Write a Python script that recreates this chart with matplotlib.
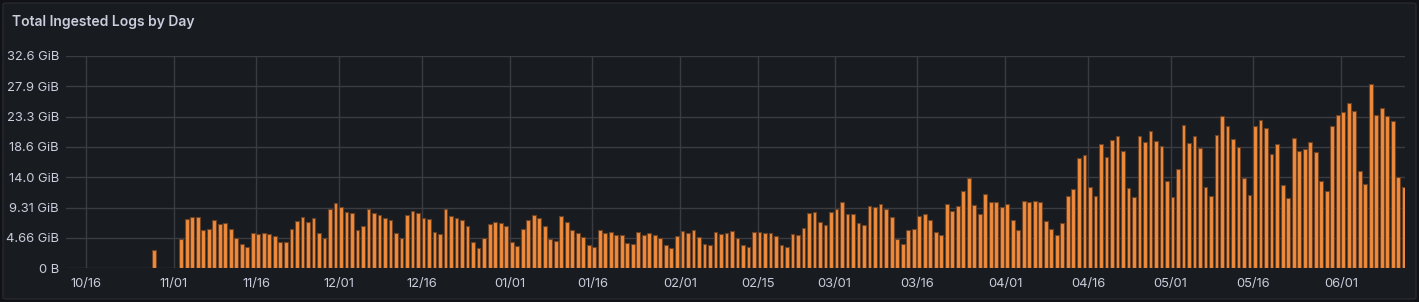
import datetime as dt
import numpy as np
import matplotlib
matplotlib.use("Agg")
import matplotlib.pyplot as plt
import matplotlib.dates as mdates
from matplotlib.patches import FancyBboxPatch

# daily ingest volume in GiB
first_day = dt.date(2022, 10, 28)
isolated = [2.76]
start_day = dt.date(2022, 11, 2)
gib = [
    4.50, 7.57, 7.83, 7.93, 5.89, 6.04, 7.37, 6.76, 6.91, 6.04,            # 11/02-11/11
    4.71, 3.68, 3.33, 5.37, 5.27, 5.42, 5.22, 4.96, 4.04, 4.04,            # 11/12-11/21
    6.04, 7.22, 7.88, 7.11, 7.73, 5.37, 4.71, 9.16, 9.98, 9.37,            # 11/22-12/01
    8.65, 8.44, 5.89, 6.45, 9.16, 8.44, 8.14, 7.68, 7.37, 5.42,            # 12/02-12/11
    4.61, 8.19, 8.75, 8.44, 7.68, 7.57, 5.63, 5.22, 9.11, 8.09,            # 12/12-12/21
    7.78, 7.47, 6.55, 3.99, 3.17, 4.71, 6.81, 7.11, 7.01, 6.45,            # 12/22-12/31
    4.09, 3.43, 6.09, 7.37, 8.14, 7.68, 6.55, 4.50, 4.25, 7.98,            # 01/01-01/10
    7.16, 5.83, 5.37, 4.86, 3.58, 3.28, 5.83, 5.42, 5.63, 5.07,            # 01/11-01/20
    5.12, 3.84, 3.74, 5.53, 5.07, 5.42, 5.07, 4.71, 3.53, 3.17,            # 01/21-01/30
    4.96, 5.73, 5.42, 5.83, 4.86, 3.79, 3.58, 5.58, 5.32, 5.42,            # 01/31-02/09
    5.68, 4.71, 3.53, 3.22, 5.58, 5.58, 5.48, 5.37, 4.96, 3.63,            # 02/10-02/19
    3.28, 5.27, 5.07, 6.24, 8.44, 8.65, 7.06, 6.65, 8.70, 9.11,            # 02/20-03/01
    10.13, 8.34, 8.29, 6.91, 6.60, 9.52, 9.37, 9.93, 9.11, 7.88,           # 03/02-03/11
    4.45, 3.74, 5.89, 6.04, 8.09, 8.29, 7.37, 5.53, 5.12, 9.93,            # 03/12-03/21
    8.80, 9.57, 11.82, 13.87, 9.72, 8.39, 11.41, 10.18, 10.24, 9.42,       # 03/22-03/31
    9.88, 7.42, 5.89, 10.34, 10.24, 10.34, 10.13, 7.27, 6.04, 5.12,        # 04/01-04/10
    6.91, 11.11, 12.18, 16.94, 17.35, 12.44, 11.11, 19.04, 17.09, 19.65,   # 04/11-04/20
    20.37, 17.96, 12.33, 10.90, 20.27, 19.45, 21.03, 19.55, 18.73, 13.36,  # 04/21-04/30
    11.00, 15.25, 22.01, 19.19, 20.32, 18.53, 12.44, 11.05, 20.47, 23.34,  # 05/01-05/10
    21.85, 19.81, 18.63, 13.92, 11.31, 21.80, 22.72, 21.49, 17.55, 19.14,  # 05/11-05/20
    12.79, 10.75, 20.01, 18.07, 18.32, 19.35, 17.86, 13.41, 11.82, 21.85,  # 05/21-05/30
    23.49, 24.00, 25.38, 24.16, 14.89, 12.95, 28.30, 23.54, 24.56, 23.39,  # 05/31-06/09
    22.57, 14.02, 12.54,                                                   # 06/10-06/12
]
tick_dates = ["2022-10-16", "2022-11-01", "2022-11-16", "2022-12-01", "2022-12-16",
              "2023-01-01", "2023-01-16", "2023-02-01", "2023-02-15", "2023-03-01",
              "2023-03-16", "2023-04-01", "2023-04-16", "2023-05-01", "2023-05-16",
              "2023-06-01"]
y_ticks_bytes = [0, 5e9, 10e9, 15e9, 20e9, 25e9, 30e9, 35e9]
y_tick_labels = ["0 B", "4.66 GiB", "9.31 GiB", "14.0 GiB", "18.6 GiB",
                 "23.3 GiB", "27.9 GiB", "32.6 GiB"]

days = [first_day] + [start_day + dt.timedelta(days=i) for i in range(len(gib))]
values = np.array(isolated + gib)
x = mdates.date2num(days) + 0.35   # buckets drawn with local tz offset

GIB = 2 ** 30
txt = "#ccccdc"

plt.rcParams["font.family"] = ["Inter", "DejaVu Sans"]
fig = plt.figure(figsize=(14.19, 3.02), dpi=100, facecolor="#111217")
panel = FancyBboxPatch((3 / 1419, 3 / 302), 1413 / 1419, 296 / 302,
                       boxstyle="round,pad=0,rounding_size=0.004",
                       transform=fig.transFigure, facecolor="#181b1f",
                       edgecolor="#26282d", linewidth=1, zorder=-10)
fig.patches.append(panel)
fig.text(12 / 1419, 1 - 22 / 302, "Total Ingested Logs by Day", color=txt,
         fontsize=10, fontweight="semibold", va="center", ha="left")

ax = fig.add_axes([66 / 1419, 1 - 268.3 / 302, 1339 / 1419, 212.3 / 302])
ax.set_zorder(5)
ax.set_facecolor("none")
ax.bar(x, values, width=0.68, color="#f08a3c", edgecolor="#6e4325",
       linewidth=0.8, zorder=3)

ax.set_xlim(mdates.date2num(dt.date(2022, 10, 16)) - 3.577,
            mdates.date2num(dt.date(2023, 6, 1)) + 11.57)
ax.set_ylim(0, 35e9 / GIB)
ax.set_xticks([mdates.date2num(dt.date.fromisoformat(d)) for d in tick_dates])
ax.xaxis.set_major_formatter(mdates.DateFormatter("%m/%d"))
ax.set_yticks([b / GIB for b in y_ticks_bytes])
ax.set_yticklabels(y_tick_labels)

ax.grid(True, color="#3a3c42", linewidth=1, zorder=0)
ax.tick_params(colors=txt, labelsize=9.3, length=0, pad=5)
ax.tick_params(axis="x", pad=7)
for s in ax.spines.values():
    s.set_visible(False)

fig.savefig("out.png", dpi=100, facecolor=fig.get_facecolor())
